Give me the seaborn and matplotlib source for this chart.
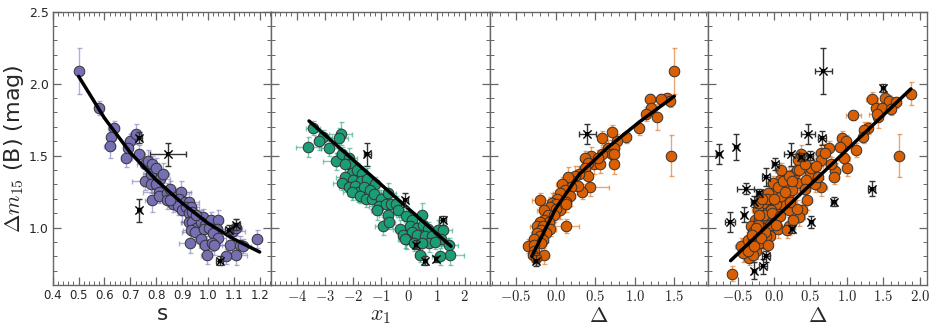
import numpy as np
import pandas as pd
import matplotlib
matplotlib.use("Agg")
import matplotlib.pyplot as plt
import seaborn as sns
from matplotlib.ticker import MultipleLocator, AutoMinorLocator, FuncFormatter

# ---- panel 1: stretch s ----
s_val = [0.50, 0.58, 0.635, 0.625, 0.62, 0.70, 0.72, 0.69, 0.685, 0.735,
         0.755, 0.77, 0.785, 0.755, 0.78, 0.80, 0.815, 0.825, 0.78, 0.80,
         0.81, 0.785, 0.81, 0.84, 0.84, 0.855, 0.875, 0.895, 0.865, 0.89,
         0.91, 0.925, 0.885, 0.90, 0.915, 0.935, 0.925, 0.94, 0.925, 0.94,
         0.955, 0.935, 0.95, 0.98, 0.975, 0.99, 1.01, 1.04, 0.985, 1.005,
         1.035, 1.02, 0.975, 1.04, 0.93, 0.99, 1.015, 1.025, 0.995, 1.085,
         1.11, 1.07, 1.125, 1.095, 1.11, 1.135, 1.19, 0.855, 0.955]
s_dm15 = [2.09, 1.83, 1.69, 1.63, 1.565, 1.60, 1.65, 1.55, 1.48, 1.51,
          1.44, 1.46, 1.44, 1.32, 1.37, 1.41, 1.34, 1.37, 1.30, 1.30,
          1.25, 1.19, 1.22, 1.24, 1.19, 1.27, 1.21, 1.25, 1.16, 1.20,
          1.18, 1.18, 1.15, 1.12, 1.14, 1.14, 1.10, 1.11, 1.04, 1.04,
          1.00, 0.985, 0.97, 1.07, 1.04, 1.02, 1.05, 1.05, 0.99, 1.00,
          0.99, 0.96, 0.92, 0.93, 0.89, 0.88, 0.89, 0.88, 0.81, 0.88,
          0.81, 0.80, 0.88, 0.975, 1.00, 0.87, 0.92, 1.19, 1.09]
s_xerr = [0.01, 0.015, 0.02, 0.015, 0.02, 0.02, 0.02, 0.015, 0.02, 0.02,
          0.03, 0.02, 0.025, 0.05, 0.03, 0.02, 0.04, 0.025, 0.03, 0.02,
          0.06, 0.03, 0.02, 0.03, 0.06, 0.02, 0.03, 0.04, 0.02, 0.03,
          0.02, 0.04, 0.03, 0.02, 0.05, 0.02, 0.03, 0.02, 0.03, 0.04,
          0.02, 0.03, 0.05, 0.03, 0.02, 0.04, 0.03, 0.02, 0.06, 0.02,
          0.03, 0.05, 0.02, 0.03, 0.04, 0.02, 0.03, 0.06, 0.02, 0.03,
          0.04, 0.02, 0.03, 0.05, 0.02, 0.03, 0.02, 0.03, 0.04]
s_yerr = [0.16, 0.05, 0.05, 0.05, 0.08, 0.05, 0.07, 0.06, 0.06, 0.06,
          0.05, 0.08, 0.06, 0.06, 0.05, 0.07, 0.05, 0.08, 0.06, 0.05,
          0.06, 0.08, 0.05, 0.07, 0.06, 0.05, 0.06, 0.07, 0.05, 0.06,
          0.05, 0.07, 0.06, 0.08, 0.05, 0.06, 0.05, 0.07, 0.08, 0.05,
          0.06, 0.07, 0.05, 0.06, 0.08, 0.05, 0.06, 0.07, 0.05, 0.06,
          0.05, 0.08, 0.06, 0.05, 0.07, 0.06, 0.05, 0.07, 0.06, 0.05,
          0.07, 0.05, 0.06, 0.05, 0.06, 0.05, 0.06, 0.05, 0.07]
s_out = [0.735, 0.845, 0.735, 1.045, 1.08, 1.11]
s_out_dm15 = [1.625, 1.51, 1.12, 0.77, 0.985, 1.02]
s_out_xerr = [0.01, 0.07, 0.005, 0.015, 0.015, 0.015]
s_out_yerr = [0.04, 0.08, 0.08, 0.03, 0.03, 0.04]
s_fit = [0.5, 0.6, 0.7, 0.8, 0.9, 1.0, 1.1, 1.2]
s_fit_dm15 = [2.05, 1.76, 1.52, 1.33, 1.17, 1.03, 0.92, 0.83]

# ---- panel 2: SALT2 x1 ----
x1_val = [-3.43, -3.06, -3.20, -3.60, -2.44, -2.51, -2.85, -2.62, -2.40, -2.14,
          -2.11, -2.29, -2.05, -1.84, -1.68, -2.30, -1.98, -1.72, -1.48, -2.40,
          -2.14, -1.92, -1.81, -1.60, -1.20, -1.38, -2.02, -1.73, -1.54, -1.30,
          -1.23, -1.00, -0.74, -1.06, -0.82, -1.15, -0.65, -0.47, -0.37, -0.76,
          -0.91, -0.70, -0.11, 0.13, 0.46, 0.05, 0.31, 0.52, 0.70, -0.30,
          -0.19, 0.11, -0.11, 0.28, 0.57, 0.83, 1.04, 1.23, 1.16, 0.73,
          0.92, -0.13, 1.45, 1.48, 0.41, 1.13, 0.19, 0.48]
x1_dm15 = [1.69, 1.63, 1.60, 1.56, 1.65, 1.62, 1.55, 1.46, 1.51, 1.48,
           1.44, 1.44, 1.38, 1.40, 1.37, 1.35, 1.33, 1.32, 1.34, 1.31,
           1.28, 1.29, 1.25, 1.28, 1.30, 1.26, 1.25, 1.22, 1.20, 1.20,
           1.23, 1.20, 1.24, 1.15, 1.16, 1.12, 1.16, 1.16, 1.12, 1.09,
           1.01, 1.04, 1.08, 1.05, 1.09, 1.01, 1.00, 1.02, 0.99, 0.99,
           0.95, 0.97, 0.92, 0.95, 0.94, 0.94, 0.98, 0.98, 0.92, 0.89,
           0.90, 0.92, 0.88, 0.81, 0.81, 0.80, 0.89, 0.89]
x1_xerr = [0.25, 0.3, 0.2, 0.45, 0.4, 0.35, 0.3, 0.45, 0.2, 0.3,
           0.25, 0.3, 0.2, 0.35, 0.25, 0.3, 0.2, 0.4, 0.25, 0.3,
           0.35, 0.2, 0.3, 0.25, 0.2, 0.3, 0.35, 0.25, 0.2, 0.3,
           0.25, 0.2, 0.3, 0.35, 0.25, 0.2, 0.3, 0.25, 0.2, 0.3,
           0.3, 0.2, 0.25, 0.3, 0.2, 0.35, 0.25, 0.2, 0.3, 0.25,
           0.2, 0.3, 0.25, 0.2, 0.3, 0.25, 0.2, 0.3, 0.25, 0.2,
           0.3, 0.25, 0.3, 0.5, 0.2, 0.3, 0.25, 0.2]
x1_yerr = [0.05, 0.05, 0.06, 0.07, 0.08, 0.07, 0.05, 0.06, 0.05, 0.07,
           0.05, 0.06, 0.07, 0.05, 0.06, 0.08, 0.05, 0.06, 0.07, 0.05,
           0.06, 0.05, 0.07, 0.06, 0.05, 0.07, 0.06, 0.05, 0.06, 0.07,
           0.05, 0.06, 0.07, 0.05, 0.06, 0.07, 0.05, 0.06, 0.05, 0.07,
           0.06, 0.05, 0.07, 0.06, 0.08, 0.05, 0.06, 0.07, 0.05, 0.06,
           0.05, 0.06, 0.07, 0.05, 0.06, 0.05, 0.07, 0.06, 0.05, 0.06,
           0.05, 0.06, 0.05, 0.07, 0.05, 0.06, 0.05, 0.06]
x1_out = [-1.48, -0.12, 1.21, 0.25, 0.59, 0.97]
x1_out_dm15 = [1.51, 1.19, 1.05, 0.88, 0.77, 0.78]
x1_out_xerr = [0.12, 0.08, 0.12, 0.05, 0.05, 0.05]
x1_out_yerr = [0.08, 0.05, 0.03, 0.03, 0.03, 0.02]
x1_fit = [-3.57, 1.51]
x1_fit_dm15 = [1.74, 0.87]

# ---- panel 3: MLCS2k2 Delta (subset) ----
d3_val = [1.50, 1.46, 1.41, 1.45, 1.33, 1.19, 1.21, 1.14, 1.28, 1.06,
          0.89, 0.78, 0.71, 0.59, 0.66, 0.74, 0.71, 0.74, 0.74, 0.59,
          0.45, 0.37, 0.49, 0.56, 0.41, 0.53, 0.37, 0.41, 0.43, 0.34,
          0.29, 0.24, 0.21, 0.28, 0.20, 0.16, 0.08, 0.12, 0.18, 0.05,
          0.02, 0.13, -0.05, 0.01, 0.06, 0.13, -0.07, 0.00, -0.15, -0.09,
          -0.02, -0.20, -0.14, -0.08, -0.20, -0.24, -0.16, -0.07, 0.13, -0.19,
          -0.24, -0.12, -0.20, -0.27, -0.16, -0.18, -0.35, -0.27, -0.27, -0.15,
          -0.29, -0.25]
d3_dm15 = [2.09, 1.50, 1.90, 1.88, 1.89, 1.89, 1.83, 1.79, 1.77, 1.69,
           1.63, 1.60, 1.66, 1.62, 1.55, 1.55, 1.51, 1.51, 1.44, 1.51,
           1.50, 1.48, 1.44, 1.44, 1.45, 1.48, 1.41, 1.36, 1.28, 1.25,
           1.37, 1.36, 1.32, 1.29, 1.28, 1.35, 1.30, 1.26, 1.22, 1.24,
           1.20, 1.18, 1.17, 1.16, 1.12, 1.16, 1.14, 1.13, 1.12, 1.09,
           1.09, 1.19, 1.05, 1.04, 1.04, 1.01, 1.01, 0.99, 1.01, 0.98,
           0.96, 0.96, 0.94, 0.92, 0.91, 0.89, 0.87, 0.88, 0.84, 0.81,
           0.81, 0.79]
d3_xerr = [0.05, 0.05, 0.04, 0.04, 0.06, 0.06, 0.05, 0.05, 0.04, 0.05,
           0.06, 0.05, 0.05, 0.06, 0.05, 0.06, 0.07, 0.05, 0.05, 0.06,
           0.08, 0.06, 0.07, 0.05, 0.08, 0.06, 0.07, 0.05, 0.25, 0.06,
           0.07, 0.08, 0.06, 0.10, 0.07, 0.06, 0.08, 0.07, 0.06, 0.08,
           0.06, 0.07, 0.05, 0.08, 0.06, 0.07, 0.05, 0.06, 0.08, 0.06,
           0.07, 0.10, 0.06, 0.07, 0.06, 0.08, 0.06, 0.07, 0.17, 0.06,
           0.07, 0.06, 0.08, 0.06, 0.07, 0.06, 0.05, 0.07, 0.06, 0.07,
           0.06, 0.05]
d3_yerr = [0.16, 0.14, 0.03, 0.04, 0.04, 0.04, 0.04, 0.05, 0.09, 0.05,
           0.04, 0.05, 0.05, 0.05, 0.06, 0.06, 0.05, 0.06, 0.07, 0.05,
           0.06, 0.05, 0.07, 0.06, 0.05, 0.06, 0.07, 0.05, 0.06, 0.05,
           0.06, 0.07, 0.05, 0.06, 0.05, 0.07, 0.05, 0.06, 0.07, 0.05,
           0.06, 0.05, 0.07, 0.05, 0.06, 0.05, 0.07, 0.06, 0.05, 0.06,
           0.05, 0.05, 0.06, 0.05, 0.07, 0.05, 0.06, 0.05, 0.05, 0.06,
           0.05, 0.06, 0.05, 0.07, 0.05, 0.06, 0.05, 0.06, 0.05, 0.06,
           0.05, 0.05]
d3_out = [0.40, -0.245]
d3_out_dm15 = [1.65, 0.77]
d3_out_xerr = [0.11, 0.04]
d3_out_yerr = [0.07, 0.04]
d3_fit = [-0.30, 0.00, 0.30, 0.66, 1.06, 1.50]
d3_fit_dm15 = [0.80, 1.13, 1.37, 1.556, 1.734, 1.912]

# ---- panel 4: MLCS2k2 Delta (full sample) ----
d4_val = [1.88, 1.35, 1.52, 1.58, 1.68, 1.40, 1.48, 1.60, 1.43, 1.41,
          1.09, 1.29, 1.24, 1.22, 0.94, 0.99, 0.90, 1.13, 0.75, 0.64,
          1.72, -0.58, 1.00, 0.96, 0.84, 0.82, 0.65, 0.57, 0.45, 0.38,
          0.34, 0.49, 0.65, 0.32, 0.28, 0.20, 0.33, 0.37, 0.21, 0.13,
          0.03, 0.06, -0.04, -0.11, -0.06, -0.15, -0.20, -0.24, -0.31, -0.36,
          -0.39, -0.45, -0.34, -0.17, -0.11, 0.01, 0.10, 0.16, 0.25, 0.31,
          0.17, 0.08, -0.01, -0.08, -0.15, -0.22, -0.26, -0.31, 0.06, -0.06,
          -0.15, -0.24, -0.29, -0.36, -0.29, -0.20, 0.03, 0.21, 0.31, 0.44,
          0.51, 0.58, 0.42, 0.10, -0.04, -0.13, -0.22, -0.29, -0.11, -0.20,
          -0.42, -0.25, -0.20, -0.10, 0.00, 0.05, 0.12, 0.20, 0.25, -0.05,
          -0.12, -0.02, 0.08, 0.15, 0.22, -0.30, -0.35, -0.28, -0.18, -0.08,
          0.03, -0.22, -0.16, 0.09, 0.35, 0.42, 0.60, 0.70, 0.78, 0.26,
          0.18]
d4_dm15 = [1.93, 1.89, 1.90, 1.88, 1.87, 1.83, 1.83, 1.82, 1.77, 1.79,
           1.78, 1.69, 1.68, 1.63, 1.62, 1.60, 1.56, 1.54, 1.55, 1.52,
           1.50, 0.68, 1.41, 1.48, 1.39, 1.35, 1.28, 1.30, 1.19, 1.12,
           1.07, 1.37, 1.47, 1.31, 1.37, 1.01, 1.47, 1.51, 1.24, 1.20,
           1.26, 1.14, 1.18, 1.14, 1.08, 1.03, 0.98, 0.93, 0.90, 0.87,
           0.82, 0.87, 0.79, 0.95, 1.00, 1.05, 1.16, 1.29, 1.26, 1.40,
           1.35, 1.33, 1.31, 1.24, 1.17, 1.12, 1.05, 1.01, 0.99, 0.94,
           0.89, 0.84, 0.81, 0.91, 0.91, 1.06, 1.16, 1.12, 1.13, 1.33,
           1.41, 1.43, 1.27, 1.22, 1.12, 1.09, 1.02, 0.97, 0.94, 0.89,
           0.82, 1.00, 1.09, 1.20, 1.20, 1.28, 1.32, 1.36, 1.32, 1.02,
           0.97, 1.10, 1.08, 1.25, 1.18, 0.95, 0.84, 0.87, 0.93, 0.88,
           1.02, 1.17, 1.20, 1.40, 1.40, 1.44, 1.35, 1.52, 1.44, 1.05,
           0.98]
d4_xerr = [0.05, 0.08, 0.05, 0.05, 0.06, 0.05, 0.06, 0.05, 0.05, 0.10,
           0.10, 0.05, 0.06, 0.05, 0.08, 0.07, 0.08, 0.05, 0.06, 0.07,
           0.07, 0.05, 0.06, 0.08, 0.06, 0.07, 0.08, 0.06, 0.07, 0.08,
           0.09, 0.06, 0.07, 0.10, 0.08, 0.09, 0.06, 0.08, 0.20, 0.08,
           0.10, 0.07, 0.08, 0.06, 0.09, 0.07, 0.08, 0.06, 0.07, 0.08,
           0.07, 0.08, 0.06, 0.07, 0.10, 0.08, 0.12, 0.09, 0.15, 0.08,
           0.07, 0.09, 0.08, 0.07, 0.06, 0.08, 0.07, 0.06, 0.09, 0.07,
           0.08, 0.06, 0.07, 0.08, 0.07, 0.06, 0.08, 0.14, 0.08, 0.07,
           0.08, 0.09, 0.07, 0.08, 0.07, 0.06, 0.08, 0.07, 0.09, 0.06,
           0.07, 0.08, 0.07, 0.06, 0.08, 0.09, 0.07, 0.08, 0.06, 0.07,
           0.08, 0.07, 0.06, 0.09, 0.08, 0.07, 0.06, 0.08, 0.07, 0.06,
           0.08, 0.07, 0.06, 0.08, 0.07, 0.09, 0.08, 0.07, 0.08, 0.07,
           0.06]
d4_yerr = [0.08, 0.05, 0.03, 0.04, 0.04, 0.04, 0.05, 0.04, 0.08, 0.05,
           0.03, 0.04, 0.05, 0.04, 0.05, 0.04, 0.06, 0.05, 0.05, 0.06,
           0.15, 0.05, 0.05, 0.04, 0.06, 0.05, 0.06, 0.05, 0.07, 0.06,
           0.06, 0.05, 0.04, 0.06, 0.05, 0.06, 0.05, 0.06, 0.07, 0.05,
           0.06, 0.07, 0.05, 0.06, 0.05, 0.07, 0.05, 0.06, 0.05, 0.07,
           0.05, 0.06, 0.05, 0.07, 0.06, 0.05, 0.06, 0.05, 0.07, 0.06,
           0.05, 0.06, 0.05, 0.07, 0.06, 0.05, 0.06, 0.05, 0.06, 0.05,
           0.07, 0.06, 0.05, 0.06, 0.05, 0.07, 0.06, 0.05, 0.06, 0.05,
           0.06, 0.05, 0.07, 0.06, 0.05, 0.06, 0.05, 0.07, 0.06, 0.05,
           0.06, 0.05, 0.06, 0.07, 0.05, 0.06, 0.05, 0.06, 0.07, 0.05,
           0.06, 0.05, 0.07, 0.06, 0.05, 0.06, 0.05, 0.06, 0.05, 0.07,
           0.06, 0.05, 0.06, 0.05, 0.07, 0.06, 0.05, 0.06, 0.05, 0.06,
           0.05]
d4_out = [0.68, 1.50, 0.47, 0.66, -0.76, -0.52, 0.24, 0.37, 0.49, 0.02,
          -0.11, -0.39, -0.21, -0.28, -0.60, -0.41, -0.11, -0.15, -0.27, 1.34,
          0.82, 0.51, 0.25]
d4_out_dm15 = [2.09, 1.97, 1.65, 1.62, 1.51, 1.56, 1.51, 1.49, 1.50, 1.44,
               1.35, 1.27, 1.24, 1.18, 1.04, 1.09, 0.80, 0.73, 0.70, 1.27,
               1.18, 1.04, 0.99]
d4_out_xerr = [0.12, 0.03, 0.10, 0.05, 0.03, 0.03, 0.10, 0.04, 0.04, 0.05,
               0.05, 0.12, 0.04, 0.04, 0.07, 0.03, 0.06, 0.05, 0.03, 0.05,
               0.03, 0.03, 0.03]
d4_out_yerr = [0.16, 0.03, 0.07, 0.05, 0.07, 0.09, 0.08, 0.03, 0.03, 0.04,
               0.06, 0.04, 0.03, 0.04, 0.07, 0.05, 0.04, 0.05, 0.06, 0.05,
               0.03, 0.04, 0.03]
d4_fit = [-0.595, 1.88]
d4_fit_dm15 = [0.77, 1.963]

dark2 = sns.color_palette("Dark2")
purple, green, orange = dark2[2], dark2[0], dark2[1]

panels = [
    dict(x=s_val, y=s_dm15, xe=s_xerr, ye=s_yerr, ox=s_out, oy=s_out_dm15,
         oxe=s_out_xerr, oye=s_out_yerr, fx=s_fit, fy=s_fit_dm15, color=purple,
         xlim=(0.4, 1.245), major=0.1, label="s", math=False),
    dict(x=x1_val, y=x1_dm15, xe=x1_xerr, ye=x1_yerr, ox=x1_out, oy=x1_out_dm15,
         oxe=x1_out_xerr, oye=x1_out_yerr, fx=x1_fit, fy=x1_fit_dm15, color=green,
         xlim=(-4.92, 2.9), major=1, label="$x_1$", math=True),
    dict(x=d3_val, y=d3_dm15, xe=d3_xerr, ye=d3_yerr, ox=d3_out, oy=d3_out_dm15,
         oxe=d3_out_xerr, oye=d3_out_yerr, fx=d3_fit, fy=d3_fit_dm15, color=orange,
         xlim=(-0.83, 1.93), major=0.5, label=r"$\Delta$", math=True),
    dict(x=d4_val, y=d4_dm15, xe=d4_xerr, ye=d4_yerr, ox=d4_out, oy=d4_out_dm15,
         oxe=d4_out_xerr, oye=d4_out_yerr, fx=d4_fit, fy=d4_fit_dm15, color=orange,
         xlim=(-0.9, 2.1), major=0.5, label=r"$\Delta$", math=True),
]

sns.set_style("ticks")
plt.rcParams["mathtext.fontset"] = "cm"
plt.rcParams["font.family"] = ["DejaVu Sans"]

fig, axes = plt.subplots(1, 4, figsize=(9.42, 3.30), dpi=100, sharey=True)
fig.subplots_adjust(left=0.056, right=0.984, top=0.965, bottom=0.136, wspace=0)

for ax, p in zip(axes, panels):
    ax.errorbar(p["x"], p["y"], xerr=p["xe"], yerr=p["ye"], fmt="none",
                ecolor=p["color"], alpha=0.55, elinewidth=1.0, capsize=1.8,
                capthick=1.0, zorder=1)
    sns.lineplot(x=p["fx"], y=p["fy"], ax=ax, color="black", lw=2.5,
                 zorder=4, sort=False)
    sns.scatterplot(x=p["x"], y=p["y"], ax=ax, color=p["color"], s=58,
                    edgecolor="0.2", linewidth=0.7, zorder=3)
    ax.errorbar(p["ox"], p["oy"], xerr=p["oxe"], yerr=p["oye"], fmt="none",
                ecolor="0.2", elinewidth=1.0, capsize=2, capthick=1.0, zorder=5)
    sns.scatterplot(x=p["ox"], y=p["oy"], ax=ax, color="black", marker="x",
                    s=35, linewidth=1.0, zorder=6)
    sns.scatterplot(x=p["ox"], y=p["oy"], ax=ax, color="black", marker="s",
                    s=6, linewidth=0, zorder=6)

    ax.set_xlim(*p["xlim"])
    ax.set_ylim(0.6, 2.5)
    ax.xaxis.set_major_locator(MultipleLocator(p["major"]))
    ax.xaxis.set_minor_locator(AutoMinorLocator(5))
    ax.yaxis.set_major_locator(MultipleLocator(0.5))
    ax.yaxis.set_minor_locator(MultipleLocator(0.1))
    if p["math"]:
        fmt = "{:.0f}" if p["major"] >= 1 else "{:.1f}"
        ax.xaxis.set_major_formatter(FuncFormatter(lambda v, pos, f=fmt: "$" + f.format(v) + "$"))
        ax.set_xlabel(p["label"], fontsize=16, labelpad=1)
        ax.tick_params(axis="x", labelsize=10.5)
    else:
        ax.xaxis.set_major_formatter(FuncFormatter(lambda v, pos: f"{v:.1f}"))
        ax.set_xlabel(p["label"], fontsize=15.5, labelpad=1)
        ax.tick_params(axis="x", labelsize=8.5)
    ax.tick_params(which="both", direction="in", top=True, right=True,
                   color="0.4", pad=3)
    ax.tick_params(axis="y", labelsize=9)
    ax.tick_params(which="major", length=6, width=0.9)
    ax.tick_params(which="minor", length=3, width=0.7)
    for sp in ax.spines.values():
        sp.set_color("0.4")
        sp.set_linewidth(1.0)

axes[0].set_ylabel(r"$\Delta m_{15}$ (B) (mag)", fontsize=16, labelpad=2)
axes[0].yaxis.set_major_formatter(FuncFormatter(lambda v, pos: f"{v:.1f}"))
for ax in axes[1:]:
    ax.tick_params(labelleft=False)

fig.savefig("out.png", dpi=100)
